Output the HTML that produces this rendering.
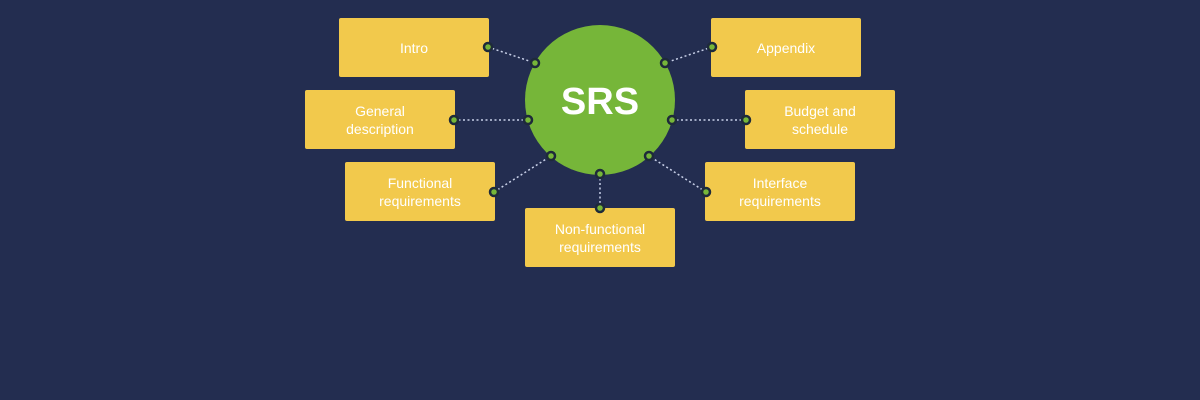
<!DOCTYPE html>
<html><head><meta charset="utf-8"><style>
html,body{margin:0;padding:0;background:#232d50;}
svg{display:block}
text{font-family:"Liberation Sans","DejaVu Sans",sans-serif;}
</style></head><body>
<svg width="1200" height="400" viewBox="0 0 1200 400" xmlns="http://www.w3.org/2000/svg">
<rect width="1200" height="400" fill="#232d50"/>
<g fill="#f2c94c">
<rect x="339" y="18" width="150" height="59" rx="2"/>
<rect x="711" y="18" width="150" height="59" rx="2"/>
<rect x="305" y="90" width="150" height="59" rx="2"/>
<rect x="745" y="90" width="150" height="59" rx="2"/>
<rect x="345" y="162" width="150" height="59" rx="2"/>
<rect x="705" y="162" width="150" height="59" rx="2"/>
<rect x="525" y="208" width="150" height="59" rx="2"/>
</g>
<circle cx="600" cy="100" r="75" fill="#76b639"/>
<text x="600" y="114" text-anchor="middle" font-size="38" font-weight="bold" fill="#fff">SRS</text>
<g stroke="#c8d0e8" stroke-width="1.5" stroke-dasharray="2,2.5">
<line x1="488" y1="47" x2="535" y2="63"/>
<line x1="712" y1="47" x2="665" y2="63"/>
<line x1="454" y1="120" x2="528" y2="120"/>
<line x1="746" y1="120" x2="672" y2="120"/>
<line x1="494" y1="192" x2="551" y2="156"/>
<line x1="706" y1="192" x2="649" y2="156"/>
<line x1="600" y1="174" x2="600" y2="208"/>
</g>
<g fill="#76b639" stroke="#1e2a3a" stroke-width="2.5">
<circle cx="488" cy="47" r="4"/><circle cx="535" cy="63" r="4"/>
<circle cx="712" cy="47" r="4"/><circle cx="665" cy="63" r="4"/>
<circle cx="454" cy="120" r="4"/><circle cx="528" cy="120" r="4"/>
<circle cx="746" cy="120" r="4"/><circle cx="672" cy="120" r="4"/>
<circle cx="494" cy="192" r="4"/><circle cx="551" cy="156" r="4"/>
<circle cx="706" cy="192" r="4"/><circle cx="649" cy="156" r="4"/>
<circle cx="600" cy="174" r="4"/><circle cx="600" cy="208" r="4"/>
</g>
<g fill="#fff" font-size="14" text-anchor="middle">
<text x="414" y="53">Intro</text>
<text x="786" y="53">Appendix</text>
<text x="380" y="116">General</text><text x="380" y="134">description</text>
<text x="820" y="116">Budget and</text><text x="820" y="134">schedule</text>
<text x="420" y="188">Functional</text><text x="420" y="206">requirements</text>
<text x="780" y="188">Interface</text><text x="780" y="206">requirements</text>
<text x="600" y="234">Non-functional</text><text x="600" y="252">requirements</text>
</g>
</svg>
</body></html>
